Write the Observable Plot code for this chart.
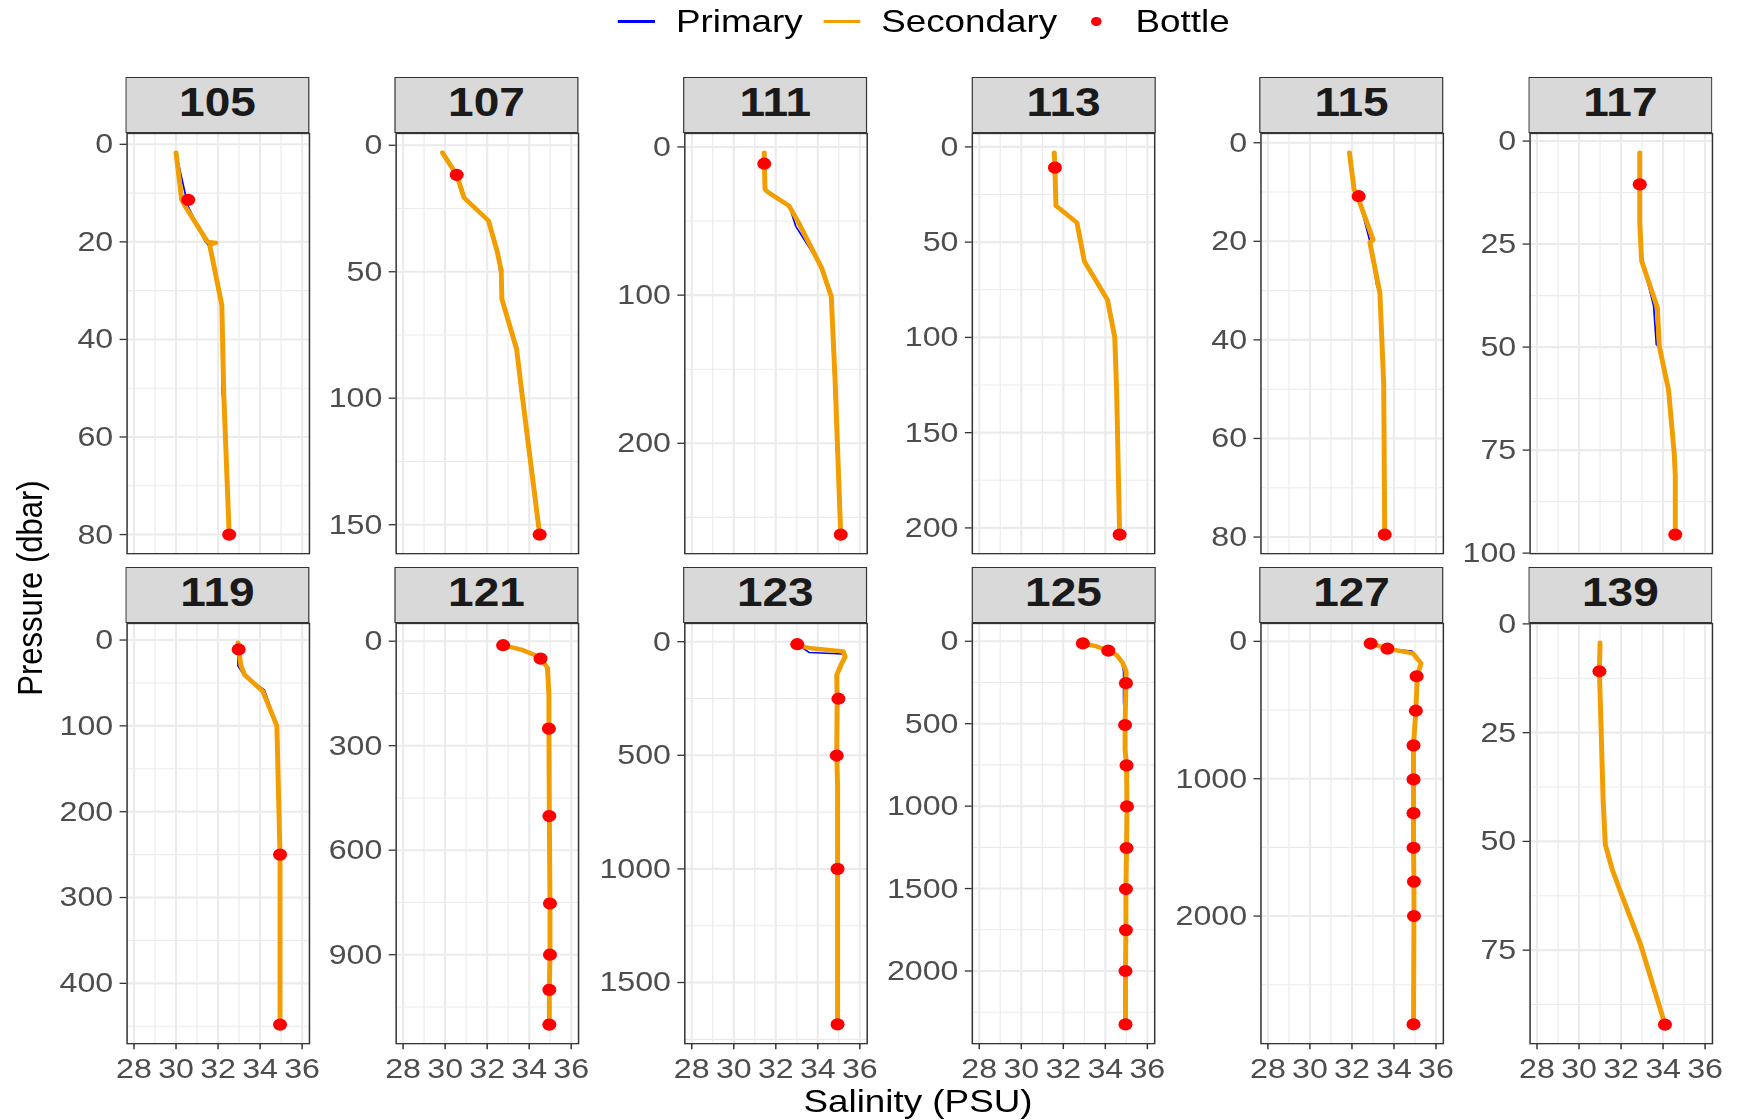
<!DOCTYPE html>
<html>
<head>
<meta charset="utf-8">
<script src="https://cdn.jsdelivr.net/npm/d3@7"></script>
<script src="https://cdn.jsdelivr.net/npm/@observablehq/plot@0.6"></script>
<style>
  html, body { margin: 0; padding: 0; background: #ffffff; }
  body { width: 1743px; height: 1120px; overflow: hidden; }
  #root { position: absolute; left: 0; top: 0; height: 1120px; transform-origin: 0 0;
          font-family: "Liberation Sans", Arial, sans-serif; }
  .strip { position: absolute; box-sizing: border-box; background: #D9D9D9; border: 1.3px solid #333333;
           display: flex; align-items: center; justify-content: center; padding-bottom: 7px;
           font-weight: bold; font-size: 40px; color: #1A1A1A; line-height: 1; }
  .legend { position: absolute; top: 0; height: 43px; display: flex; align-items: center; font-size: 32px; color: #000; }
  .legend .key { display: block; }
  .legend .txt { line-height: 43px; }
  .title { position: absolute; color: #000; white-space: nowrap; line-height: 1; }
</style>
</head>
<body>
<div id="root"></div>
<script>
// ---------------- data ----------------
const stations = ["105", "107", "111", "113", "115", "117", "119", "121", "123", "125", "127", "139"];

const yTicks = [
  [0, 20, 40, 60, 80],
  [0, 50, 100, 150],
  [0, 100, 200],
  [0, 50, 100, 150, 200],
  [0, 20, 40, 60, 80],
  [0, 25, 50, 75, 100],
  [0, 100, 200, 300, 400],
  [0, 300, 600, 900],
  [0, 500, 1000, 1500],
  [0, 500, 1000, 1500, 2000],
  [0, 1000, 2000],
  [0, 25, 50, 75]
];

const xTicks = [28, 30, 32, 34, 36];
const xMinorTicks = [29, 31, 33, 35];

const seriesNames = ["Primary", "Secondary", "Bottle"];

// rows: [station, pressure (dbar), salinity (PSU)]
const primary = [
  ["105", 1.7, 30.0], ["105", 9.4, 30.4], ["105", 12.5, 30.55], ["105", 20, 31.4], ["105", 21, 31.6], ["105", 30.6, 32.1], ["105", 40, 32.27], ["105", 50, 32.18], ["105", 60, 32.4], ["105", 80, 32.53],
  ["107", 2.9, 29.87], ["107", 11.5, 30.5], ["107", 20.7, 30.9], ["107", 29.9, 32.1], ["107", 42.4, 32.52], ["107", 60.8, 32.72], ["107", 79.5, 33.3], ["107", 81, 33.45], ["107", 98.3, 33.66], ["107", 153.9, 34.5],
  ["111", 3.8, 31.45], ["111", 11.3, 31.45], ["111", 28.6, 31.5], ["111", 30.2, 31.65], ["111", 39.9, 32.64], ["111", 53.5, 32.95], ["111", 80.5, 34.15], ["111", 99.5, 34.6], ["111", 160, 34.78], ["111", 205, 34.9], ["111", 261.6, 35.09],
  ["113", 3.0, 31.57], ["113", 10.9, 31.58], ["113", 31, 31.63], ["113", 32.8, 31.87], ["113", 39.8, 32.65], ["113", 60, 32.97], ["113", 80.2, 34.1], ["113", 100, 34.45], ["113", 129, 34.54], ["113", 203.5, 34.68],
  ["115", 2.0, 31.88], ["115", 10.2, 32.15], ["115", 11.5, 32.33], ["115", 19.6, 32.83], ["115", 20.5, 32.87], ["115", 29, 33.18], ["115", 30.5, 33.33], ["115", 48.8, 33.51], ["115", 79.5, 33.56],
  ["117", 2.8, 32.89], ["117", 10.5, 32.89], ["117", 21.5, 32.95], ["117", 28.7, 32.99], ["117", 40, 33.55], ["117", 49.4, 33.68], ["117", 50, 33.82], ["117", 60.4, 34.26], ["117", 75.8, 34.53], ["117", 95.5, 34.58],
  ["119", 3, 32.93], ["119", 11, 32.95], ["119", 30, 32.95], ["119", 40.7, 33.22], ["119", 58, 34.2], ["119", 100, 34.82], ["119", 191, 34.9], ["119", 250, 34.95], ["119", 448, 34.95],
  ["121", 4, 32.72], ["121", 11.5, 32.76], ["121", 26, 33.6], ["121", 40, 34.22], ["121", 50, 34.54], ["121", 76, 34.87], ["121", 155, 34.94], ["121", 251, 34.94], ["121", 502, 34.96], ["121", 753, 34.99], ["121", 900, 34.99], ["121", 1001, 34.96], ["121", 1100.6, 34.96],
  ["123", 4, 32.98], ["123", 11, 33.02], ["123", 48, 33.6], ["123", 54, 35.2], ["123", 67, 35.3], ["123", 99, 35.12], ["123", 147, 34.9], ["123", 251, 34.92], ["123", 501, 34.9], ["123", 1000, 34.94], ["123", 1500, 34.96], ["123", 1685, 34.94],
  ["125", 8, 32.9], ["125", 13, 32.93], ["125", 29, 33.5], ["125", 57, 34.12], ["125", 84, 34.5], ["125", 128, 34.78], ["125", 183, 34.87], ["125", 370, 34.87], ["125", 508, 34.94], ["125", 753, 35.01], ["125", 1002, 35.03], ["125", 1254, 35.01], ["125", 1503, 34.99], ["125", 1752, 35.0], ["125", 2000, 34.96], ["125", 2325, 34.96],
  ["127", 9, 32.85], ["127", 16, 32.89], ["127", 53, 33.69], ["127", 70, 34.85], ["127", 127, 35.11], ["127", 159, 35.29], ["127", 254, 35.11], ["127", 505, 35.04], ["127", 757, 34.93], ["127", 1005, 34.93], ["127", 1251, 34.93], ["127", 1503, 34.93], ["127", 1749, 34.95], ["127", 2000, 34.95], ["127", 2790, 34.93],
  ["139", 4.3, 31.0], ["139", 10.9, 30.97], ["139", 20, 31.02], ["139", 40, 31.1], ["139", 50.7, 31.25], ["139", 56.6, 31.62], ["139", 62.4, 32.07], ["139", 73.7, 32.93], ["139", 92.1, 34.09]
];

const secondary = [
  ["105", 1.7, 30.0], ["105", 11.4, 30.27], ["105", 12.8, 30.45], ["105", 20, 31.5], ["105", 20.2, 31.9], ["105", 20.6, 31.6], ["105", 30.6, 32.07], ["105", 33, 32.18], ["105", 51, 32.27], ["105", 80, 32.53],
  ["107", 2.9, 29.87], ["107", 11.7, 30.55], ["107", 20.7, 30.9], ["107", 29.9, 32.07], ["107", 42.4, 32.49], ["107", 49.6, 32.67], ["107", 60.8, 32.7], ["107", 80.5, 33.4], ["107", 98.3, 33.66], ["107", 153.9, 34.5],
  ["111", 3.8, 31.45], ["111", 11.3, 31.45], ["111", 28.6, 31.49], ["111", 30.2, 31.6], ["111", 39.9, 32.64], ["111", 51.2, 33.09], ["111", 81.6, 34.18], ["111", 100.8, 34.64], ["111", 157, 34.82], ["111", 261.6, 35.09],
  ["113", 3.0, 31.57], ["113", 10.9, 31.6], ["113", 31, 31.65], ["113", 32.8, 31.87], ["113", 39.8, 32.65], ["113", 60, 33.0], ["113", 80.2, 34.1], ["113", 100, 34.45], ["113", 129, 34.54], ["113", 203.5, 34.68],
  ["115", 2.0, 31.88], ["115", 9.5, 32.1], ["115", 11.9, 32.35], ["115", 19.7, 33.01], ["115", 20.2, 32.85], ["115", 30.5, 33.33], ["115", 48.8, 33.51], ["115", 79.5, 33.56],
  ["117", 2.8, 32.89], ["117", 10.5, 32.89], ["117", 19.8, 32.89], ["117", 29.1, 32.98], ["117", 40.5, 33.73], ["117", 49.8, 33.82], ["117", 60.4, 34.26], ["117", 75.8, 34.53], ["117", 81.1, 34.58], ["117", 95.5, 34.58],
  ["119", 3, 32.95], ["119", 11, 32.98], ["119", 30, 33.09], ["119", 40.7, 33.27], ["119", 59.8, 34.13], ["119", 100, 34.8], ["119", 191, 34.89], ["119", 250, 34.95], ["119", 448, 34.95],
  ["121", 4, 32.72], ["121", 11.5, 32.76], ["121", 24, 33.62], ["121", 39.7, 34.26], ["121", 50, 34.54], ["121", 76, 34.87], ["121", 155, 34.94], ["121", 251, 34.94], ["121", 502, 34.96], ["121", 753, 34.99], ["121", 900, 34.99], ["121", 1001, 34.96], ["121", 1100.6, 34.96],
  ["123", 4, 32.98], ["123", 11, 33.02], ["123", 24, 33.39], ["123", 30, 33.75], ["123", 43, 35.21], ["123", 67, 35.3], ["123", 99, 35.12], ["123", 147, 34.9], ["123", 251, 34.92], ["123", 501, 34.9], ["123", 635, 34.94], ["123", 1000, 34.94], ["123", 1685, 34.94],
  ["125", 8, 32.9], ["125", 13, 32.93], ["125", 29, 33.53], ["125", 57, 34.14], ["125", 84, 34.54], ["125", 128, 34.81], ["125", 183, 34.99], ["125", 254, 34.98], ["125", 508, 34.94], ["125", 658, 34.94], ["125", 753, 35.01], ["125", 1002, 35.03], ["125", 1254, 35.01], ["125", 1503, 34.98], ["125", 1752, 34.98], ["125", 2000, 34.96], ["125", 2325, 34.96],
  ["127", 9, 32.85], ["127", 16, 32.89], ["127", 53, 33.69], ["127", 87, 34.9], ["127", 127, 35.11], ["127", 159, 35.29], ["127", 254, 35.11], ["127", 505, 35.04], ["127", 757, 34.93], ["127", 1005, 34.93], ["127", 1251, 34.93], ["127", 1503, 34.93], ["127", 1749, 34.95], ["127", 2000, 34.95], ["127", 2790, 34.93],
  ["139", 4.3, 31.0], ["139", 10.9, 30.97], ["139", 19, 31.02], ["139", 40.7, 31.15], ["139", 50.7, 31.25], ["139", 56.6, 31.59], ["139", 62.4, 32.04], ["139", 73.7, 32.93], ["139", 92.1, 34.09]
];

const bottle = [
  ["105", 11.4, 30.58], ["105", 80, 32.53],
  ["107", 11.7, 30.55], ["107", 153.9, 34.5],
  ["111", 11.3, 31.45], ["111", 261.6, 35.09],
  ["113", 10.9, 31.6], ["113", 203.5, 34.68],
  ["115", 10.85, 32.32], ["115", 79.5, 33.56],
  ["117", 10.5, 32.89], ["117", 95.5, 34.58],
  ["119", 11, 32.98], ["119", 250, 34.95], ["119", 448, 34.95],
  ["121", 11.5, 32.76], ["121", 50, 34.54], ["121", 251, 34.94], ["121", 502, 34.96], ["121", 753, 34.99], ["121", 900, 34.99], ["121", 1001, 34.96], ["121", 1100.6, 34.96],
  ["123", 11, 33.02], ["123", 251, 34.98], ["123", 501, 34.9], ["123", 1000, 34.94], ["123", 1684, 34.94],
  ["125", 13, 32.93], ["125", 57, 34.14], ["125", 254, 34.98], ["125", 508, 34.94], ["125", 753, 35.01], ["125", 1002, 35.03], ["125", 1254, 35.01], ["125", 1503, 34.98], ["125", 1752, 34.98], ["125", 2000, 34.96], ["125", 2324, 34.96],
  ["127", 16, 32.89], ["127", 53, 33.69], ["127", 254, 35.08], ["127", 505, 35.04], ["127", 757, 34.93], ["127", 1005, 34.93], ["127", 1251, 34.93], ["127", 1503, 34.93], ["127", 1749, 34.95], ["127", 2000, 34.95], ["127", 2788, 34.93],
  ["139", 10.9, 30.97], ["139", 92.1, 34.09]
];

// ---------------- layout & style ----------------
// The reference picture is stretched horizontally; reproduce with a uniform x-stretch.
const SX = 1.15;
const ux = v => v / SX;   // picture x (px) -> unstretched x
const colors = { Primary: "#0000FF", Secondary: "#F29D00", Bottle: "#FF0000" };
const layout = {
  colLeft: [126.3, 395.3, 684.1, 972.3, 1260.4, 1529.2], // picture px
  panelW: 182.4,                                          // picture px
  panelH: 420.2,
  stripTop: [77.0, 567.3],
  panelTop: [132.6, 622.6]
};
const xDomain = [27.67, 36.35];

const root = document.getElementById("root");
root.style.width = ux(1743) + "px";
root.style.transform = `scaleX(${SX})`;

const toRows = arr => arr.map(([station, pressure, salinity]) => ({station, pressure, salinity}));
const P = toRows(primary), S = toRows(secondary), B = toRows(bottle);

stations.forEach((st, i) => {
  const row = Math.floor(i / 6), col = i % 6;
  const p = P.filter(d => d.station === st);
  const s = S.filter(d => d.station === st);
  const b = B.filter(d => d.station === st);
  const all = [...p, ...s, ...b].map(d => d.pressure);
  const lo = d3.min(all), hi = d3.max(all), pad = (hi - lo) * 0.05;
  const yDomain = [lo - pad, hi + pad];
  const ticks = yTicks[i];
  const step = ticks[1] - ticks[0];
  const minor = d3.range(ticks[0] - step / 2, ticks[ticks.length - 1] + step, step)
    .filter(v => v >= yDomain[0] && v <= yDomain[1]);

  const pw = ux(layout.panelW);
  const mL = 90, mR = 4, mT = 4, mB = row === 1 ? 60 : 4;
  const W = mL + pw + mR, H = mT + layout.panelH + mB;

  const grid = "#EBEBEB";
  const chart = Plot.plot({
    width: W, height: H,
    marginLeft: mL, marginRight: mR, marginTop: mT, marginBottom: mB,
    x: {domain: xDomain, axis: null},
    y: {domain: yDomain, reverse: true, axis: null},
    style: {fontFamily: "'Liberation Sans', Arial, sans-serif", background: "transparent", overflow: "visible"},
    marks: [
      Plot.gridY(minor, {stroke: grid, strokeOpacity: 1, strokeWidth: 1.1}),
      Plot.gridX(xMinorTicks, {stroke: grid, strokeOpacity: 1, strokeWidth: 1.0}),
      Plot.gridY(ticks, {stroke: grid, strokeOpacity: 1, strokeWidth: 2.1}),
      Plot.gridX(xTicks, {stroke: grid, strokeOpacity: 1, strokeWidth: 1.8}),
      Plot.line(p, {x: "salinity", y: "pressure", stroke: colors.Primary, strokeWidth: 1.5}),
      Plot.line(s, {x: "salinity", y: "pressure", stroke: colors.Secondary, strokeWidth: 4.3}),
      Plot.dot(b, {x: "salinity", y: "pressure", r: 6.1, fill: colors.Bottle, stroke: null}),
      Plot.frame({stroke: "#333333", strokeWidth: 1.3}),
      Plot.axisY(ticks, {label: null, tickFormat: d => String(d), tickSize: 6, tickPadding: 6, fontSize: 28, fill: "#4D4D4D", stroke: "#333333", strokeWidth: 1.3}),
      row === 1 ? Plot.axisX(xTicks, {label: null, tickFormat: d => String(d), tickSize: 6, tickPadding: 8, fontSize: 28, fill: "#4D4D4D", stroke: "#333333", strokeWidth: 1.3}) : null
    ]
  });
  chart.style.position = "absolute";
  chart.style.left = (ux(layout.colLeft[col]) - mL) + "px";
  chart.style.top = (layout.panelTop[row] - mT) + "px";
  root.appendChild(chart);

  const strip = document.createElement("div");
  strip.className = "strip";
  strip.textContent = st;
  strip.style.left = (ux(layout.colLeft[col]) - 0.6) + "px";
  strip.style.top = layout.stripTop[row] + "px";
  strip.style.width = (pw + 1.2) + "px";
  strip.style.height = (layout.panelTop[row] - layout.stripTop[row] + 0.65) + "px";
  root.appendChild(strip);
});

// ---------------- legend ----------------
const ns = "http://www.w3.org/2000/svg";
const legend = document.createElement("div");
legend.className = "legend";
legend.style.left = ux(618) + "px";
legend.style.gap = ux(20.5) + "px";
seriesNames.forEach(name => {
  const kw = ux(37.5);
  const key = document.createElementNS(ns, "svg");
  key.setAttribute("class", "key");
  key.setAttribute("width", kw); key.setAttribute("height", 43);
  if (name === "Bottle") {
    const c = document.createElementNS(ns, "circle");
    c.setAttribute("cx", kw / 2); c.setAttribute("cy", 21.5); c.setAttribute("r", 4.6);
    c.setAttribute("fill", colors[name]);
    key.appendChild(c);
  } else {
    const l = document.createElementNS(ns, "line");
    l.setAttribute("x1", 0); l.setAttribute("x2", kw); l.setAttribute("y1", 21.5); l.setAttribute("y2", 21.5);
    l.setAttribute("stroke", colors[name]); l.setAttribute("stroke-width", 3);
    key.appendChild(l);
  }
  legend.appendChild(key);
  const t = document.createElement("span");
  t.className = "txt";
  t.textContent = name;
  legend.appendChild(t);
});
root.appendChild(legend);

// ---------------- axis titles ----------------
const xt = document.createElement("div");
xt.className = "title";
xt.textContent = "Salinity (PSU)";
xt.style.fontSize = "32px";
xt.style.left = ux(918) + "px"; xt.style.top = "1101px";
xt.style.transform = "translate(-50%, -50%)";
root.appendChild(xt);

const yt = document.createElement("div");
yt.className = "title";
yt.textContent = "Pressure (dbar)";
yt.style.fontSize = "31px";
yt.style.left = ux(30) + "px"; yt.style.top = "588px";
yt.style.transform = "translate(-50%, -50%) rotate(-90deg)";
root.appendChild(yt);
</script>
</body>
</html>
